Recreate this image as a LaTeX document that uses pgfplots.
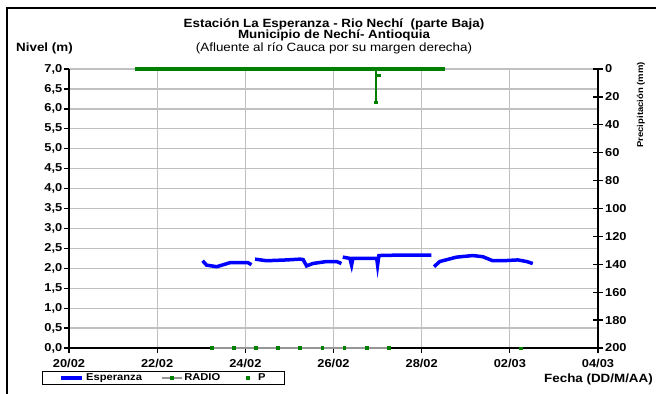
\documentclass[border=0pt]{standalone}
\usepackage{fontspec}
\setmainfont{Liberation Sans}[FakeStretch=1.12]
\usepackage{pgfplots}
\pgfplotsset{compat=1.18}

\definecolor{verde}{RGB}{0,128,0}
\definecolor{azul}{RGB}{0,0,255}
\definecolor{rejilla}{RGB}{192,192,192}
\definecolor{gris}{RGB}{150,150,150}

\newcommand{\ticfont}{\fontsize{11.5}{12}\selectfont\bfseries}

\pgfplotsset{
  leg line/.style={legend image code/.code={\draw[##1] (0bp,0bp) -- (21bp,0bp);}},
  leg radio/.style={legend image code/.code={\draw[mark repeat=2,mark phase=2,##1] plot coordinates {(0bp,0bp) (10bp,0bp) (20bp,0bp)};}},
  leg dot/.style={legend image code/.code={\path[draw=none] (0bp,0bp) -- (17bp,0bp);
      \draw[##1, only marks] plot coordinates {(9bp,0bp)};}},
}

\begin{document}
\begin{tikzpicture}[x=1bp,y=1bp]
\useasboundingbox (0,0) rectangle (656,-393);
\draw[line width=2.5bp] (7,-396) -- (7,-8) -- (660,-8);

% titles
\node[anchor=base,inner sep=0,font=\fontsize{12}{12}\selectfont\bfseries] at (334,-27.5) {Estación La Esperanza - Rio Nechí\ \ (parte Baja)};
\node[anchor=base,inner sep=0,font=\fontsize{12}{12}\selectfont\bfseries] at (334,-38.8) {Municipio de Nechí- Antioquia};
\node[anchor=base,inner sep=0,font=\fontsize{12}{12}\selectfont] at (334,-51) {(Afluente al río Cauca por su margen derecha)};
\node[anchor=base west,inner sep=0,font=\fontsize{12}{12}\selectfont\bfseries] at (16,-51) {Nivel (m)};
\node[anchor=base east,inner sep=0,font=\fontsize{12}{12}\selectfont\bfseries] at (653,-382.7) {Fecha (DD/M/AA)};

% right axis title
\node[anchor=east,rotate=90,inner sep=0,font=\fontsize{8.5}{9}\selectfont\bfseries] at (641,-62) {Precipitación (mm)};

\begin{axis}[
    at={(69bp,-348bp)}, anchor=south west,
    scale only axis, width=529bp, height=279bp,
    xmin=0, xmax=12, ymin=0, ymax=7,
    axis x line*=bottom, axis y line*=left,
    axis line style={line width=1.6bp, -},
    xtick={0,2,...,12},
    xticklabels={20/02,22/02,24/02,26/02,28/02,02/03,04/03},
    ytick={0,0.5,...,7},
    tick align=outside, major tick length=5bp,
    tick style={black, line width=1.3bp},
    grid=major, grid style={rejilla, line width=1.3bp},
    tick label style={font=\ticfont},
    yticklabel style={inner sep=1.5bp},
    xticklabel style={yshift=-3bp},
    /pgf/number format/.cd, use comma, fixed, fixed zerofill, precision=1, assume math mode=true,
    /pgfplots/.cd,
    clip=false,
    unbounded coords=jump,
    legend columns=3,
    legend cell align=left,
    legend style={at={(-0.051,-0.081)}, anchor=north west, draw=black, line width=1.3bp,
        font=\fontsize{10}{11}\selectfont\bfseries, inner xsep=17bp, inner ysep=0.5bp,
        /tikz/every even column/.append style={column sep=17bp}},
]

% Esperanza (nivel, m)
\addplot[azul, line width=3.5bp, leg line] coordinates {
    (3.03,2.19) (3.12,2.08) (3.35,2.04) (3.65,2.14) (3.88,2.14) (4.06,2.14) (4.14,2.09)
    (4.18,nan)
    (4.22,2.23) (4.48,2.19) (4.94,2.21) (5.24,2.23) (5.31,2.22) (5.39,2.06) (5.53,2.12)
    (5.84,2.17) (6.07,2.17) (6.18,2.12)
    (6.20,nan)
    (6.21,2.28) (6.37,2.25) (6.41,2.08) (6.44,2.25) (6.98,2.25) (7.00,2.08) (7.03,2.32)
    (7.43,2.33) (8.22,2.33)
    (8.25,nan)
    (8.28,2.04) (8.41,2.17) (8.79,2.28) (9.16,2.32) (9.39,2.29) (9.61,2.19) (9.84,2.19)
    (10.18,2.21) (10.38,2.17) (10.52,2.12)
};
\addlegendentry{Esperanza}

% RADIO
\addplot[gris, line width=1.3bp, mark=square*, mark size=1.3bp,
    mark options={draw=verde, fill=verde}, leg radio]
    coordinates {
    (3.25,0) (3.75,0) (4.25,0) (4.75,0) (5.25,0) (5.75,0) (6.25,0) (6.75,0) (7.25,0)
};
\addlegendentry{RADIO}

% P
\addplot[only marks, mark=square*, mark size=1.3bp, verde, leg dot]
    coordinates {(10.25,0)};
\addlegendentry{P}
\end{axis}

\begin{axis}[
    at={(69bp,-348bp)}, anchor=south west,
    scale only axis, width=529bp, height=279bp,
    xmin=0, xmax=12, ymin=0, ymax=200, y dir=reverse,
    axis x line=none, axis y line*=right,
    axis line style={line width=1.6bp, -},
    ytick={0,20,...,200},
    tick align=center, major tick length=10bp,
    tick style={black, line width=1.3bp},
    tick label style={font=\ticfont},
    yticklabel style={inner sep=2bp},
    /pgf/number format/assume math mode=true,
    clip=false,
]
\addplot[verde, line width=3.3bp, forget plot] coordinates {(1.5,0) (8.53,0)};
\addplot[verde, line width=1.8bp, forget plot] coordinates {(6.96,0) (6.96,23.9)};
\addplot[verde, only marks, mark=square*, mark size=1.3bp, forget plot]
    coordinates {(6.96,23.9) (7.02,4.5)};
\end{axis}
\end{tikzpicture}
\end{document}
